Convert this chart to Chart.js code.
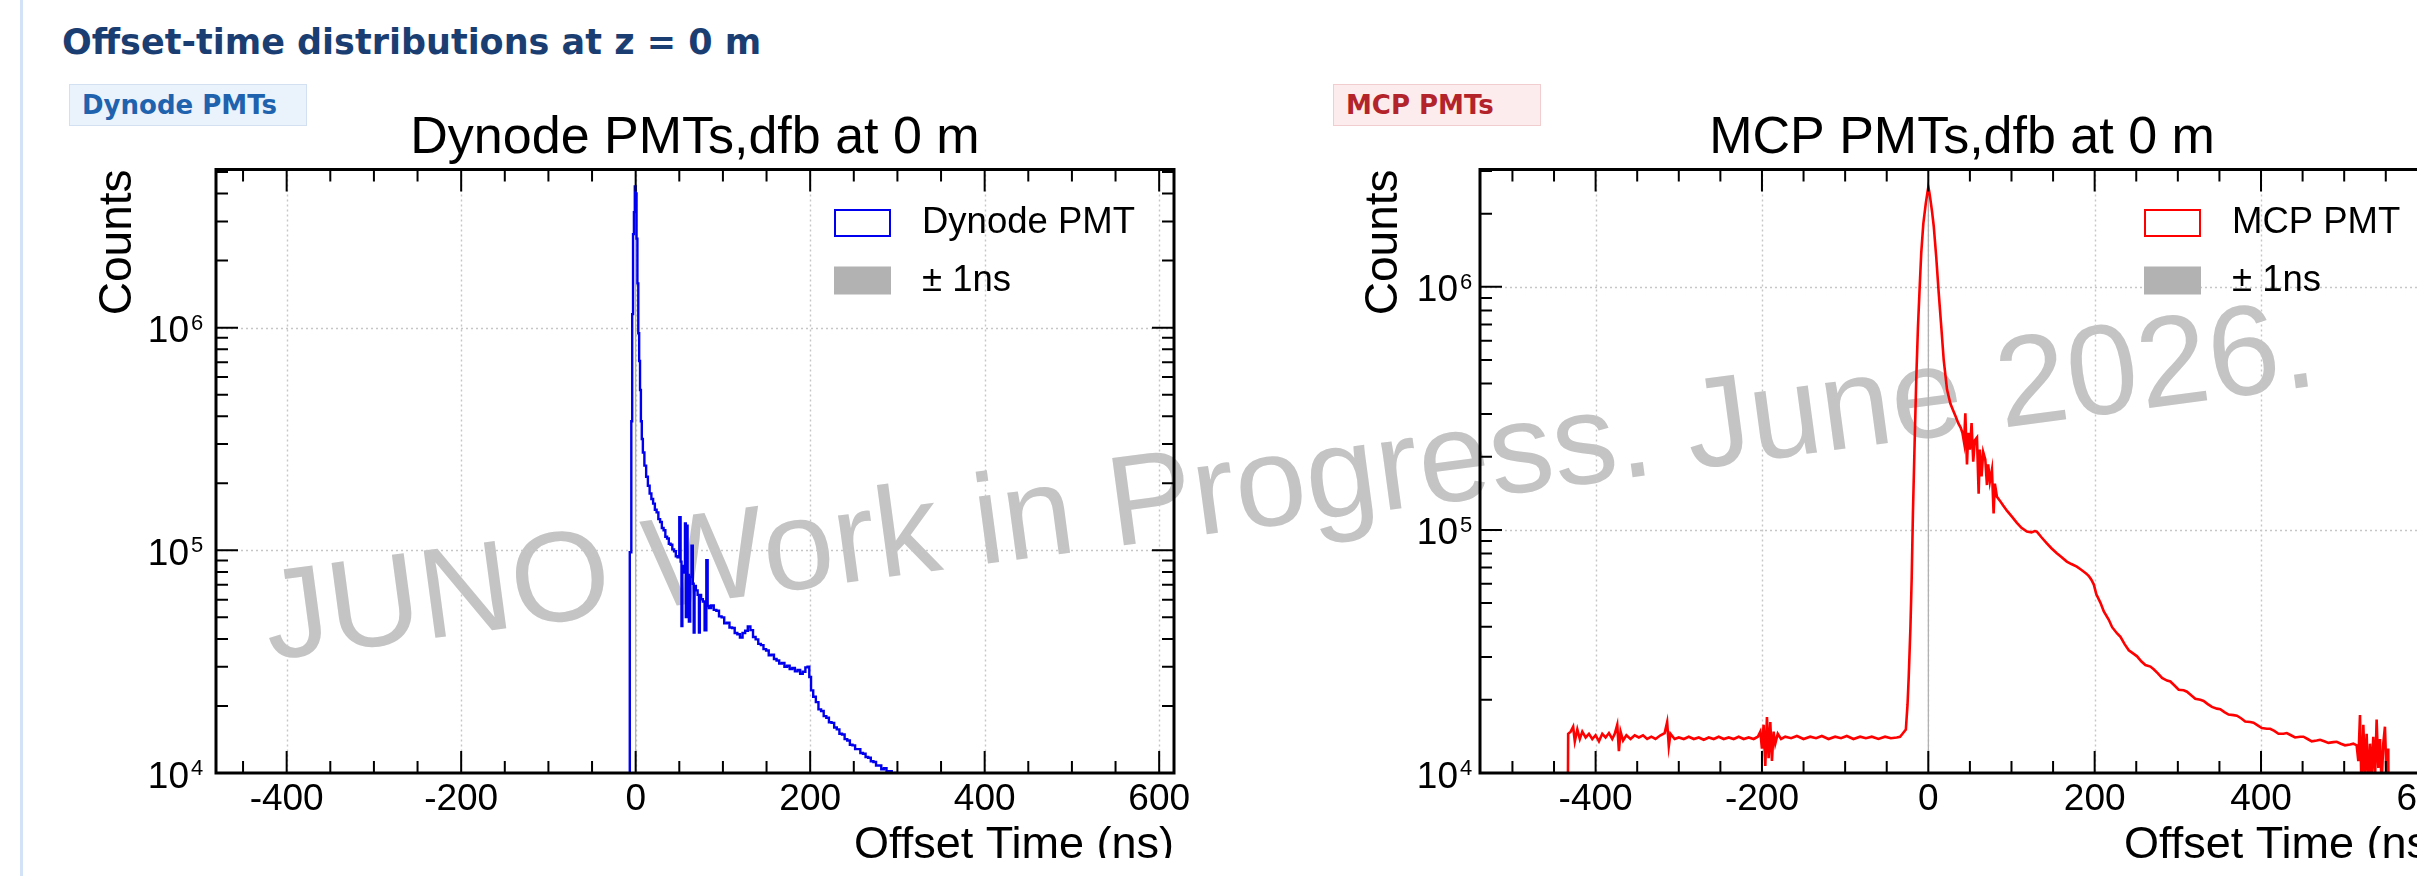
<!DOCTYPE html>
<html>
<head>
<meta charset="utf-8">
<title>Offset-time distributions at z = 0 m</title>
<script src="https://cdn.jsdelivr.net/npm/chart.js@4.4.1/dist/chart.umd.min.js"></script>
<style>
  html, body { margin: 0; padding: 0; width: 2417px; height: 876px; overflow: hidden; background: #fff; }
  body { position: relative; }
  .rail { position: absolute; left: 20px; top: 0; width: 3px; height: 876px; background: #d3e2f6; }
  h2 { position: absolute; left: 62px; top: 25px; margin: 0; font: bold 35px/1 'DejaVu Sans', sans-serif; color: #1a3e72; white-space: nowrap; }
  .badge { position: absolute; top: 84px; height: 42px; box-sizing: border-box; padding-left: 12px; display: flex; align-items: center;
           font: bold 26px 'DejaVu Sans', sans-serif; border: 1px solid; z-index: 2; }
  .dyn { left: 69px; width: 238px; background: #eaf2fb; border-color: #d2e0f2; color: #1f62ad; }
  .mcp { left: 1333px; width: 208px; background: #fdeced; border-color: #f2cdd0; color: #b3242a; }
  .wm { position: absolute; left: 270px; top: 551.6px; font: 128px/1 'Liberation Sans', Arial, sans-serif; color: #c4c4c4;
        white-space: nowrap; transform-origin: 0 108.4px; transform: rotate(-7.64deg); z-index: 0; }
  .plot { position: absolute; top: 100px; width: 1180px; height: 758px; overflow: hidden; z-index: 1; }
</style>
</head>
<body>
<div class="rail"></div>
<h2>Offset-time distributions at z = 0 m</h2>
<div class="badge dyn">Dynode PMTs</div>
<div class="badge mcp">MCP PMTs</div>
<div class="wm">JUNO Work in Progress. June 2026.</div>
<div class="plot" style="left:60px"><canvas id="dynodeChart" width="1180" height="780"></canvas></div>
<div class="plot" style="left:1330px"><canvas id="mcpChart" width="1180" height="780"></canvas></div>

<script>
// axis ticks
const xTickValues = [-400, -200, 0, 200, 400, 600];
const yTickValues = [1e4, 1e5, 1e6];
const yTickExponents = ['4', '5', '6'];
const bandEdges = [-1, 1];

// Dynode PMT offset time (ns) and counts
const dynodeTime = [-8, -5.5, -4.5, -3.5, -2.5, -1.5, -0.5, 0.5, 1.5, 2.5, 3.5, 4.5, 5.5, 6.5, 7.5, 9, 11, 13, 15, 17,
  19, 21, 23, 25, 27, 29, 31, 33, 35, 37, 39, 41, 43, 45, 47, 49, 51, 52, 53, 54,
  56, 57, 58, 59, 60, 62, 63, 65, 66, 67, 68, 70, 72, 73, 74, 76, 78, 80, 82, 83,
  85, 88, 91, 94, 97, 100, 103, 106, 109, 112, 115, 118, 121, 124, 127, 130, 133, 136, 139, 142,
  145, 148, 151, 154, 157, 160, 163, 166, 169, 172, 175, 178, 181, 184, 187, 190, 193, 196, 198, 200,
  202, 205, 208, 211, 214, 217, 220, 223, 226, 229, 232, 235, 238, 241, 244, 247, 250, 253, 256, 259,
  262, 265, 268, 271, 274, 277, 280, 283, 286, 289, 292, 295, 298, 300, 302];
const dynodeCounts = [3000, 98000, 380000, 1150000, 2630000, 3300000, 4300000, 4000000, 2510000, 1580000, 944000, 708000, 525000, 380000, 316000, 275000, 240000, 214000, 195000, 180000,
  170000, 162000, 152000, 148000, 138000, 134000, 126000, 123000, 115000, 113000, 107000, 106000, 101000, 99000, 94000, 93000, 141000, 89000, 45700, 85000,
  79400, 132000, 50100, 129000, 77600, 47900, 75900, 105000, 70800, 42700, 69200, 66100, 63100, 42700, 63100, 60300, 58900, 43700, 90200, 56200,
  55000, 56500, 54000, 53500, 50500, 50000, 47000, 47300, 45000, 44800, 42500, 42000, 40600, 42500, 43500, 45500, 43800, 40800, 39800, 38000,
  37500, 36000, 35500, 33800, 34000, 32500, 32000, 31000, 31200, 30000, 30300, 29300, 29600, 28600, 29000, 27900, 28500, 29800, 30000, 27000,
  23500, 22000, 20800, 19300, 19000, 18000, 17700, 16900, 16800, 16000, 15700, 15000, 14900, 14200, 14000, 13400, 13300, 12800, 12800, 12300,
  12200, 11800, 11700, 11300, 11200, 10800, 10800, 10400, 10500, 10200, 10200, 9900, 10000, 9700, 3000];

// MCP PMT offset time (ns) and counts
const mcpTime = [-445, -434, -433, -430, -427, -425, -422, -419, -416, -412, -408, -404, -400, -396, -392, -388, -384, -380, -377, -374,
  -372, -370, -367, -363, -358, -353, -348, -343, -338, -333, -328, -322, -317, -314, -312, -310, -305, -300, -294, -288,
  -282, -276, -270, -264, -258, -252, -246, -240, -234, -228, -222, -216, -210, -205, -202, -200, -198, -196, -194, -192,
  -190, -188, -186, -184, -181, -177, -172, -165, -158, -150, -142, -135, -128, -120, -112, -105, -98, -90, -82, -75,
  -68, -60, -52, -45, -38, -34, -31, -27, -25, -23.5, -21.5, -20, -18.5, -16.5, -14.5, -12.5, -10.5, -8.5, -6, -3,
  -1, 0, 1, 2.5, 4.5, 6.5, 9.5, 12.5, 15.5, 18.5, 22.5, 26.5, 30, 33, 36, 39, 41, 43, 44.5, 46.5,
  48, 50, 52, 54, 56, 58.5, 60.5, 62, 64, 66, 68.5, 70.5, 72, 74, 76.5, 78.5, 80, 82.5, 86, 90,
  94.5, 100, 106.5, 112, 118.5, 124, 128, 130.5, 136, 142.5, 148, 154.5, 160, 166.5, 172, 178.5, 183, 187, 190, 193,
  196, 199, 202, 207, 211, 217, 221, 227, 231, 236, 241, 247, 251, 256, 261, 267, 271, 276, 281, 287,
  291, 296, 301, 307, 311, 316, 321, 327, 331, 336, 341, 347, 351, 356, 361, 367, 371, 376, 381, 387,
  391, 396, 401, 407, 411, 416, 421, 427, 431, 436, 441, 447, 451, 456, 461, 467, 471, 476, 481, 487,
  491, 496, 501, 507, 511, 515, 517, 519, 521, 523, 525, 527, 529, 531, 533, 535, 537, 539, 541, 543,
  545, 547, 549, 551, 553, 554];
const mcpCounts = [3000, 3000, 14500, 14800, 15500, 13500, 15100, 13800, 14800, 14000, 14500, 13800, 14300, 13500, 14500, 14000, 14600, 13800, 14500, 15800,
  12300, 14800, 13600, 14300, 13800, 14300, 14000, 14300, 13800, 14100, 13800, 14300, 14600, 16200, 12900, 14500, 13800, 14000, 13800, 14100,
  13800, 14000, 13700, 14000, 13800, 14100, 13800, 14000, 13800, 14100, 13800, 14000, 13800, 14100, 14800, 12600, 15800, 10700, 17000, 11500,
  16200, 11200, 14800, 13200, 14500, 13800, 14100, 13900, 14200, 13800, 14100, 13900, 14200, 13800, 14100, 13900, 14200, 13800, 14100, 13900,
  14100, 13800, 14100, 13900, 14000, 14100, 14500, 15100, 19100, 25100, 39800, 63100, 117000, 224000, 417000, 676000, 977000, 1380000, 1820000, 2210000,
  2450000, 2570000, 2480000, 2290000, 2040000, 1780000, 1330000, 944000, 692000, 501000, 378000, 331000, 309000, 292000, 275000, 263000, 251000, 229000, 302000, 186000,
  251000, 214000, 275000, 191000, 234000, 240000, 141000, 214000, 166000, 209000, 195000, 153000, 186000, 158000, 177000, 117000, 155000, 137000, 132000, 126000,
  120000, 114000, 107000, 102000, 98400, 97700, 98900, 98400, 93300, 88100, 84100, 80200, 77300, 74100, 72400, 70600, 68900, 67300, 66100, 64600,
  62400, 59600, 54300, 50100, 46200, 42700, 39800, 37500, 36300, 33900, 32000, 30900, 30200, 28800, 27800, 27400, 26700, 25700, 24600, 24000,
  23800, 22900, 22000, 21900, 21600, 20900, 20200, 20000, 19800, 19200, 18700, 18400, 18300, 17800, 17400, 17300, 17200, 16800, 16300, 16200,
  16100, 15700, 15300, 15200, 15200, 14900, 14500, 14500, 14600, 14300, 14000, 14100, 14100, 13800, 13500, 13600, 13700, 13500, 13300, 13400,
  13450, 13200, 13000, 13100, 13200, 13000, 11200, 17300, 7900, 15800, 10000, 14500, 8500, 13200, 10000, 14100, 9300, 16600, 10500, 13800,
  8900, 13200, 15500, 9500, 12600, 3000];

const FONT = "'Liberation Sans', Arial, Helvetica, sans-serif";

// ROOT-like frame: dotted grid, inward ticks, 10^n labels and a boxed legend
const rootStyle = {
  id: 'rootStyle',
  beforeDatasetsDraw(chart, args, o) {
    const {ctx, chartArea: a, scales: {x, y}} = chart;
    ctx.save();
    ctx.strokeStyle = '#c6c6c6';
    ctx.lineWidth = 1.4;
    ctx.setLineDash([2, 3]);
    ctx.beginPath();
    xTickValues.forEach(v => {
      const px = Math.round(x.getPixelForValue(v)) + 0.5;
      ctx.moveTo(px, a.top); ctx.lineTo(px, a.bottom);
    });
    yTickValues.forEach(v => {
      const py = Math.round(y.getPixelForValue(v)) + 0.5;
      if (py > a.bottom - 2) return;
      ctx.moveTo(a.left, py); ctx.lineTo(a.right, py);
    });
    ctx.stroke();
    ctx.restore();
  },
  afterDatasetsDraw(chart, args, o) {
    const {ctx, chartArea: a, scales: {x, y}} = chart;
    ctx.save();
    ctx.strokeStyle = '#000';
    ctx.lineWidth = 2;
    ctx.beginPath();
    for (let v = Math.ceil(x.min / 50) * 50; v <= x.max; v += 50) {
      const px = x.getPixelForValue(v);
      const len = v % 200 === 0 ? 22 : 12;
      ctx.moveTo(px, a.bottom); ctx.lineTo(px, a.bottom - len);
      ctx.moveTo(px, a.top); ctx.lineTo(px, a.top + len);
    }
    const d0 = Math.floor(Math.log10(y.min)), d1 = Math.ceil(Math.log10(y.max));
    for (let d = d0; d <= d1; d++) {
      for (let m = 1; m < 10; m++) {
        const v = m * Math.pow(10, d);
        if (v < y.min || v > y.max) continue;
        const py = y.getPixelForValue(v);
        const len = m === 1 ? 22 : 12;
        ctx.moveTo(a.left, py); ctx.lineTo(a.left + len, py);
        ctx.moveTo(a.right, py); ctx.lineTo(a.right - len, py);
      }
    }
    ctx.stroke();

    ctx.lineWidth = 3;
    ctx.strokeRect(a.left, a.top, a.right - a.left, a.bottom - a.top);

    // 10^n tick labels
    ctx.fillStyle = '#000';
    ctx.textBaseline = 'alphabetic';
    yTickValues.forEach((v, i) => {
      const py = y.getPixelForValue(v);
      ctx.font = '37px ' + FONT;
      ctx.textAlign = 'right';
      ctx.fillText('10', a.left - o.labelGap, py + 14.5);
      ctx.font = '22px ' + FONT;
      ctx.textAlign = 'left';
      ctx.fillText(yTickExponents[i], a.left - o.labelGap + 2, py + 2);
    });

    // legend
    chart.data.datasets.forEach((ds, i) => {
      const bx = a.left + o.legendLeft, by = a.top + o.legendTop + i * 57.5;
      if (i === 0) {
        ctx.fillStyle = '#fff';
        ctx.fillRect(bx, by, 57, 28);
        ctx.strokeStyle = ds.borderColor;
        ctx.lineWidth = 2;
        ctx.strokeRect(bx + 1, by + 1, 55, 26);
      } else {
        ctx.fillStyle = ds.backgroundColor;
        ctx.fillRect(bx, by, 57, 28);
      }
      ctx.fillStyle = '#000';
      ctx.font = '36.5px ' + FONT;
      ctx.textAlign = 'left';
      ctx.textBaseline = 'middle';
      ctx.fillText(ds.label, bx + 88, by + 14);
    });
    ctx.restore();
  }
};

function histChart(id, o) {
  return new Chart(document.getElementById(id), {
    type: 'line',
    data: {
      datasets: [
        {
          label: o.label,
          data: o.time.map((t, i) => ({x: t, y: o.counts[i]})),
          borderColor: o.color,
          borderWidth: o.lineWidth,
          stepped: o.stepped,
          pointRadius: 0,
          fill: false,
          tension: 0,
          order: 1
        },
        {
          label: '± 1ns',
          data: bandEdges.map(t => ({x: t, y: o.yMax})),
          borderColor: 'rgba(0,0,0,0)',
          backgroundColor: '#b2b2b2',
          borderWidth: 0,
          pointRadius: 0,
          fill: 'start',
          order: 2
        }
      ]
    },
    options: {
      responsive: false,
      animation: false,
      devicePixelRatio: 1,
      events: [],
      layout: {padding: {left: 0, right: 66, top: 0, bottom: 0}},
      plugins: {
        legend: {display: false},
        tooltip: {enabled: false},
        title: {
          display: true,
          text: o.title,
          fullSize: false,
          color: '#000',
          font: {family: FONT, size: 52, weight: 'normal', lineHeight: 1},
          padding: {top: 13, bottom: 4.5}
        },
        rootStyle: {legendLeft: o.legendLeft, legendTop: 39.5, labelGap: o.labelGap}
      },
      scales: {
        x: {
          type: 'linear',
          min: o.xMin,
          max: o.xMax,
          afterBuildTicks: s => { s.ticks = xTickValues.map(v => ({value: v})); },
          afterFit: s => { s.height = 107; },
          grid: {display: false, drawTicks: false, tickLength: 0},
          border: {display: false},
          ticks: {font: {family: FONT, size: 37}, color: '#000', padding: 5, maxRotation: 0, autoSkip: false},
          title: {
            display: true, text: 'Offset Time (ns)', align: 'end', color: '#000',
            font: {family: FONT, size: 45}, padding: {top: 0, bottom: 7.6}
          }
        },
        y: {
          type: 'logarithmic',
          min: 1e4,
          max: o.yMax,
          afterBuildTicks: s => { s.ticks = yTickValues.map(v => ({value: v})); },
          afterFit: s => { s.width = o.yWidth; },
          grid: {display: false, drawTicks: false, tickLength: 0},
          border: {display: false},
          ticks: {display: false},
          title: {
            display: true, text: 'Counts', align: 'end', color: '#000',
            font: {family: FONT, size: 46}, padding: {top: o.yTitlePad, bottom: 0}
          }
        }
      }
    },
    plugins: [rootStyle]
  });
}

histChart('dynodeChart', {
  title: 'Dynode PMTs,dfb at 0 m', label: 'Dynode PMT', color: '#0000ee',
  time: dynodeTime, counts: dynodeCounts, lineWidth: 2.4, stepped: 'middle',
  xMin: -481, xMax: 617, yMax: 5.13e6,
  yWidth: 156, yTitlePad: 30.4, legendLeft: 618, labelGap: 27
});

histChart('mcpChart', {
  title: 'MCP PMTs,dfb at 0 m', label: 'MCP PMT', color: '#ff0000',
  time: mcpTime, counts: mcpCounts, lineWidth: 2.6, stepped: false,
  xMin: -539, xMax: 620, yMax: 3.04e6,
  yWidth: 150, yTitlePad: 26.4, legendLeft: 664, labelGap: 22
});
</script>
</body>
</html>
